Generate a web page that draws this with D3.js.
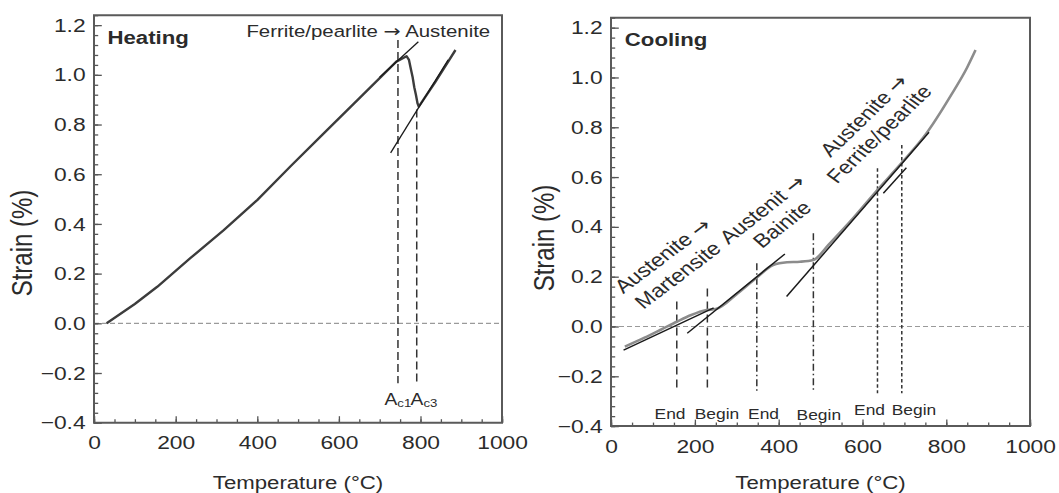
<!DOCTYPE html>
<html>
<head>
<meta charset="utf-8">
<script src="https://cdn.jsdelivr.net/npm/d3@7"></script>
<style>
  body { margin: 0; background: #fff; }
  text { font-family: "Liberation Sans", Arial, sans-serif; fill: #2b2b2b; }
  .arrow { font-family: "DejaVu Sans", sans-serif; }
</style>
</head>
<body>
<script>
// the source figure is stretched sideways, so everything is drawn
// in a narrow space and scaled by SX at the end
var SX = 1.2;

// tick labels
var xTicks = [0, 200, 400, 600, 800, 1000];
var yTicks = [-0.4, -0.2, 0, 0.2, 0.4, 0.6, 0.8, 1.0, 1.2];

// heating curve (temperature °C, strain %)
var heatTemp = [31, 100, 155, 236, 318, 400, 483, 560, 650, 741, 766, 772, 777, 781, 785, 789, 793, 796, 836, 886];
var heatStrain = [0, 0.078, 0.147, 0.262, 0.375, 0.496, 0.634, 0.759, 0.905, 1.053, 1.075, 1.06, 1.02, 0.99, 0.95, 0.92, 0.885, 0.872, 0.97, 1.10];
// straight construction lines on heating
var heatTangents = [
  [[700, 0.99], [795, 1.133]],
  [[727, 0.686], [868, 1.06]]
];
// Ac1 / Ac3 markers
var heatMarkTemp = [745, 791];
var heatMarkTop = [1.14, 0.86];
var heatMarkName = ["c1", "c3"];
var heatMarkLabelTemp = [712, 776];

// cooling curve
var coolTemp = [33, 80, 120, 157, 190, 228, 250, 300, 348, 387, 420, 451, 483, 520, 570, 634, 690, 753, 812, 850, 870];
var coolStrain = [-0.081, -0.045, -0.012, 0.019, 0.045, 0.066, 0.07, 0.13, 0.197, 0.247, 0.258, 0.26, 0.267, 0.33, 0.42, 0.545, 0.65, 0.776, 0.93, 1.04, 1.11];
var coolTangents = [
  [[30, -0.095], [245, 0.075]],
  [[182, -0.027], [415, 0.291]],
  [[419, 0.12], [759, 0.78]],
  [[650, 0.535], [705, 0.637]]
];
// begin / end markers: martensite, bainite, ferrite/pearlite
var coolMarkTemp = [157, 230, 348, 483, 636, 694];
var coolMarkTop = [0.10, 0.153, 0.254, 0.374, 0.635, 0.729];
var coolMarkBottom = [-0.262, -0.262, -0.262, -0.262, -0.268, -0.268];
var coolMarkKind = ["m", "m", "b", "b", "f", "f"];
var coolMarkLabel = ["End", "Begin", "End", "Begin", "End", "Begin"];
var coolMarkLabelTemp = [141, 253, 364, 496, 617, 723];
var coolMarkLabelStrain = [-0.37, -0.37, -0.37, -0.375, -0.355, -0.355];
// rotated transformation notes
var coolNoteText = ["Austenite \u2192", "Martensite", "Austenit \u2192", "Bainite", "Austenite \u2192", "Ferrite/pearlite"];
var coolNoteTemp = [136, 172, 374, 421, 618, 654];
var coolNoteStrain = [0.265, 0.187, 0.451, 0.391, 0.829, 0.756];
var coolNoteAngle = [37, 37, 38, 38, 44, 44];

var dashes = { m: "8,5", b: "7,3,1.5,3", f: "3.5,2.5", a: "8,4" };

var svg = d3.select("body")
  .append("svg")
  .attr("width", 1059)
  .attr("height", 493);

var root = svg.append("g")
  .attr("transform", `scale(${SX},1)`);

// scales, ranges given in screen pixels
var xL = d3.scaleLinear().domain([0, 1000]).range([94 / SX, 502 / SX]);
var yL = d3.scaleLinear().domain([-0.4, 1.24]).range([422.7, 15.2]);
var xR = d3.scaleLinear().domain([0, 1000]).range([611 / SX, 1030 / SX]);
var yR = d3.scaleLinear().domain([-0.4, 1.24]).range([426.1, 17.7]);

// writes a label, giving the arrow a font that has a proper long arrow
function fillText(sel, str) {
  var parts = str.split("\u2192");
  sel.append("tspan").text(parts[0]);
  if (parts.length > 1) {
    sel.append("tspan").attr("class", "arrow").text("\u2192");
    sel.append("tspan").text(parts[1]);
  }
}

function panel(xs, ys, title, ylabelX, ylabelY) {
  var g = root.append("g");
  var x0 = xs.range()[0], x1 = xs.range()[1];
  var y0 = ys.range()[0], y1 = ys.range()[1];

  // zero line
  g.append("line")
    .attr("x1", xs(0)).attr("x2", xs(1000))
    .attr("y1", ys(0)).attr("y2", ys(0))
    .attr("stroke", "#9a9a9a")
    .attr("stroke-width", 1.2)
    .attr("stroke-dasharray", "5,3")
    .attr("vector-effect", "non-scaling-stroke");

  // minor ticks
  var yMinor = d3.range(0, 42).map(i => -0.4 + i * 0.04);
  var xMinor = d3.range(0, 1001, 50);
  g.append("g")
    .attr("transform", `translate(${x0},0)`)
    .call(d3.axisLeft(ys).tickValues(yMinor).tickSize(-3.5).tickFormat(""))
    .attr("color", "#555");
  g.append("g")
    .attr("transform", `translate(0,${y0})`)
    .call(d3.axisBottom(xs).tickValues(xMinor).tickSize(-3.5).tickFormat(""))
    .attr("color", "#555");

  // major ticks with labels
  g.append("g")
    .attr("transform", `translate(${x0},0)`)
    .call(d3.axisLeft(ys).tickValues(yTicks).tickSize(-6.5).tickPadding(7).tickFormat(d3.format(".1f")))
    .attr("color", "#555")
    .attr("font-size", 19);
  g.append("g")
    .attr("transform", `translate(0,${y0})`)
    .call(d3.axisBottom(xs).tickValues(xTicks).tickSize(-6.5).tickPadding(13).tickFormat(d3.format("d")))
    .attr("color", "#555")
    .attr("font-size", 19);
  g.selectAll(".domain").remove();
  g.selectAll(".tick line")
    .attr("stroke-width", 1.3)
    .attr("vector-effect", "non-scaling-stroke");

  // frame
  g.append("rect")
    .attr("x", x0).attr("y", y1)
    .attr("width", x1 - x0).attr("height", y0 - y1)
    .attr("fill", "none")
    .attr("stroke", "#5a5a5a")
    .attr("stroke-width", 2)
    .attr("vector-effect", "non-scaling-stroke");

  // axis titles
  g.append("text")
    .attr("x", (x0 + x1) / 2)
    .attr("y", 489.5)
    .attr("text-anchor", "middle")
    .attr("font-size", 18.5)
    .text("Temperature (\u00b0C)");

  g.append("text")
    .attr("transform", `translate(${ylabelX / SX},${ylabelY}) rotate(-90)`)
    .attr("text-anchor", "middle")
    .attr("dy", "0.35em")
    .attr("font-size", 24)
    .text("Strain (%)");

  // panel title
  g.append("text")
    .attr("x", xs(33))
    .attr("y", ys(1.125))
    .attr("font-size", 18.5)
    .attr("font-weight", "bold")
    .text(title);

  return g;
}

// ---------- Heating ----------
var gL = panel(xL, yL, "Heating", 22, 243);

gL.selectAll(".mark")
  .data(heatMarkTemp)
  .enter()
  .append("line")
  .attr("x1", d => xL(d)).attr("x2", d => xL(d))
  .attr("y1", (d, i) => yL(heatMarkTop[i]))
  .attr("y2", yL(-0.241))
  .attr("stroke", "#333")
  .attr("stroke-width", 1.5)
  .attr("stroke-dasharray", dashes.a)
  .attr("vector-effect", "non-scaling-stroke");

gL.append("path")
  .datum(heatTemp.map((t, i) => [t, heatStrain[i]]))
  .attr("d", d3.line().x(d => xL(d[0])).y(d => yL(d[1])))
  .attr("fill", "none")
  .attr("stroke", "#3c3c3c")
  .attr("stroke-width", 2.4)
  .attr("stroke-linejoin", "round")
  .attr("vector-effect", "non-scaling-stroke");

gL.selectAll(".tan")
  .data(heatTangents)
  .enter()
  .append("path")
  .attr("d", d3.line().x(d => xL(d[0])).y(d => yL(d[1])))
  .attr("stroke", "#1a1a1a")
  .attr("stroke-width", 1.3)
  .attr("vector-effect", "non-scaling-stroke");

gL.append("text")
  .attr("x", xL(971))
  .attr("y", yL(1.151))
  .attr("text-anchor", "end")
  .attr("font-size", 17)
  .call(fillText, "Ferrite/pearlite \u2192 Austenite");

heatMarkLabelTemp.forEach(function(t, i) {
  var lab = gL.append("text")
    .attr("x", xL(t))
    .attr("y", yL(-0.33))
    .attr("font-size", 16);
  lab.append("tspan").text("A");
  lab.append("tspan").attr("font-size", 11).attr("dy", 1.5).text(heatMarkName[i]);
});

// ---------- Cooling ----------
var gR = panel(xR, yR, "Cooling", 544, 238);

gR.selectAll(".mark")
  .data(coolMarkTemp)
  .enter()
  .append("line")
  .attr("x1", d => xR(d)).attr("x2", d => xR(d))
  .attr("y1", (d, i) => yR(coolMarkTop[i]))
  .attr("y2", (d, i) => yR(coolMarkBottom[i]))
  .attr("stroke", "#333")
  .attr("stroke-width", 1.5)
  .attr("stroke-dasharray", (d, i) => dashes[coolMarkKind[i]])
  .attr("vector-effect", "non-scaling-stroke");

gR.append("path")
  .datum(coolTemp.map((t, i) => [t, coolStrain[i]]))
  .attr("d", d3.line().x(d => xR(d[0])).y(d => yR(d[1])).curve(d3.curveMonotoneX))
  .attr("fill", "none")
  .attr("stroke", "#8c8c8c")
  .attr("stroke-width", 2.6)
  .attr("stroke-linejoin", "round")
  .attr("vector-effect", "non-scaling-stroke");

gR.selectAll(".tan")
  .data(coolTangents)
  .enter()
  .append("path")
  .attr("d", d3.line().x(d => xR(d[0])).y(d => yR(d[1])))
  .attr("stroke", "#1a1a1a")
  .attr("stroke-width", 1.5)
  .attr("vector-effect", "non-scaling-stroke");

gR.selectAll(".marklabel")
  .data(coolMarkLabel)
  .enter()
  .append("text")
  .attr("x", (d, i) => xR(coolMarkLabelTemp[i]))
  .attr("y", (d, i) => yR(coolMarkLabelStrain[i]))
  .attr("text-anchor", "middle")
  .attr("font-size", 14.5)
  .text(d => d);

// notes are rotated before the sideways stretch, so correct the angle
gR.selectAll(".note")
  .data(coolNoteText)
  .enter()
  .append("text")
  .attr("transform", function(d, i) {
    var a = Math.atan(SX * Math.tan(coolNoteAngle[i] * Math.PI / 180)) * 180 / Math.PI;
    return `translate(${xR(coolNoteTemp[i])},${yR(coolNoteStrain[i])}) rotate(${-a})`;
  })
  .attr("text-anchor", "middle")
  .attr("font-size", 19)
  .each(function(d) { fillText(d3.select(this), d); });
</script>
</body>
</html>
